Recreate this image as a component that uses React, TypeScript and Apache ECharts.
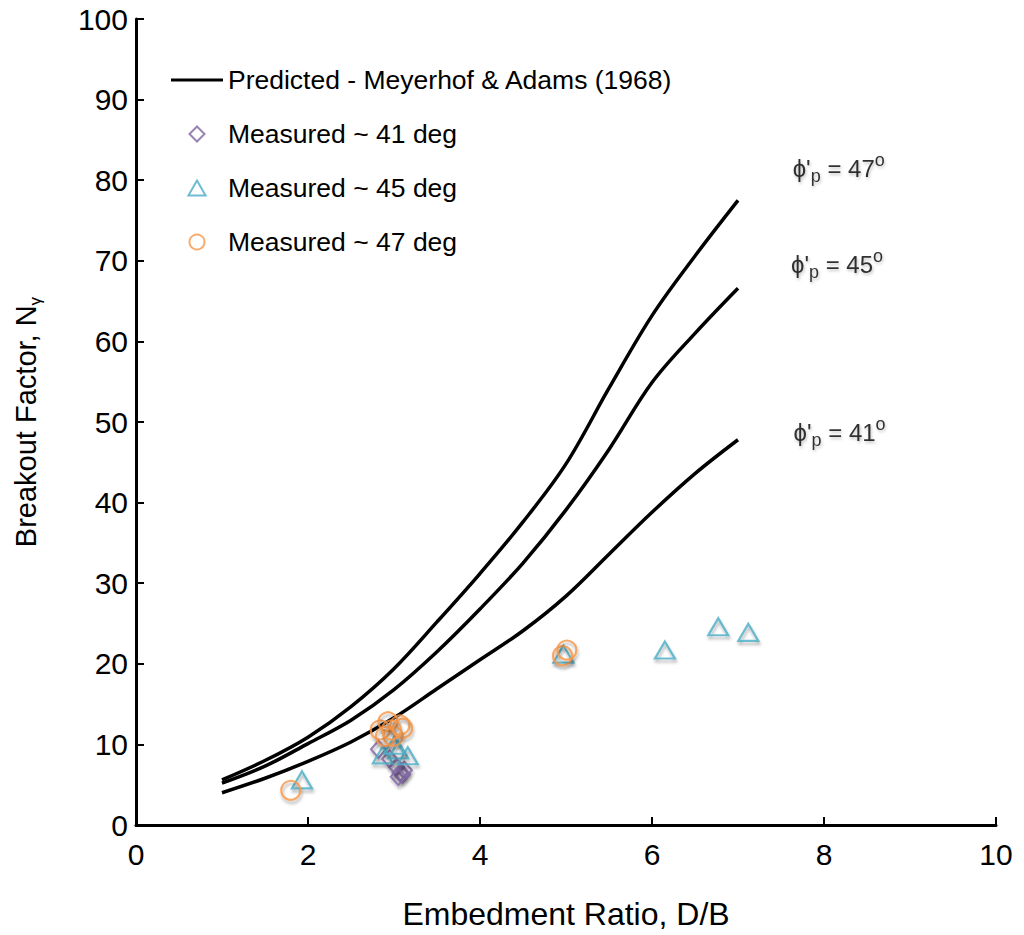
import React, { useEffect, useRef } from "react";
import * as echarts from "echarts";

// ---- data ----
const curveX = [1, 1.5, 2, 2.5, 3, 3.5, 4, 4.5, 5, 5.5, 6, 6.5, 7];
const predicted47 = [5.6, 8.0, 10.9, 14.7, 19.4, 25.2, 31.2, 37.6, 44.8, 54.2, 63.2, 70.6, 77.5];
const predicted45 = [5.2, 7.3, 10.1, 13.0, 16.8, 21.5, 26.8, 32.5, 39.1, 46.6, 54.9, 61.0, 66.6];
const predicted41 = [4.0, 5.8, 7.9, 10.3, 13.3, 16.9, 20.5, 24.1, 28.4, 33.6, 38.8, 43.6, 47.8];

const measured41: [number, number][] = [
  [2.82, 9.4], [2.95, 8.2], [3.03, 7.2], [3.07, 6.5], [3.1, 6.3], [3.12, 6.8], [3.05, 6.0],
];
const measured45: [number, number][] = [
  [1.93, 5.6], [2.87, 8.7], [3.05, 9.3], [3.16, 8.6], [3.0, 9.9],
  [4.97, 21.2], [6.15, 21.7], [6.77, 24.6], [7.12, 23.9],
];
const measured47: [number, number][] = [
  [1.8, 4.3], [2.84, 11.8], [2.93, 12.8], [2.9, 11.0], [2.99, 11.0], [3.07, 12.4],
  [3.1, 12.0], [2.97, 11.8], [4.96, 21.0], [5.01, 21.7],
];

const angleLabels: { x: number; y: number; deg: string }[] = [
  { x: 7.63, y: 81.5, deg: "47" },
  { x: 7.61, y: 69.6, deg: "45" },
  { x: 7.64, y: 48.7, deg: "41" },
];

const xTicks = { min: 0, max: 10, interval: 2 };
const yTicks = { min: 0, max: 100, interval: 10 };

const PRED = "Predicted - Meyerhof & Adams (1968)";
const M41 = "Measured ~ 41 deg";
const M45 = "Measured ~ 45 deg";
const M47 = "Measured ~ 47 deg";

const PURPLE = "#8064A2";
const TEAL = "#4BACC6";
const ORANGE = "#F79646";
const FONT = "Liberation Sans, Arial, sans-serif";

const shadow = {
  shadowBlur: 3,
  shadowColor: "rgba(0,0,0,0.35)",
  shadowOffsetX: 1,
  shadowOffsetY: 3,
};

const ICON_LINE = "path://M0,0L52,0L52,3.2L0,3.2Z";
const ICON_DIAMOND = "path://M7,0L14,7L7,14L0,7Z";
const ICON_TRIANGLE = "path://M8,0L16,14L0,14Z";

export default function App() {
  const ref = useRef<HTMLDivElement>(null);

  useEffect(() => {
    if (!ref.current) return;
    const chart = echarts.init(ref.current, undefined, { renderer: "svg" });

    const lineSeries = (data: number[]) => ({
      type: "line",
      name: PRED,
      data: curveX.map((x, i) => [x, data[i]]),
      smooth: 0.35,
      symbol: "none",
      lineStyle: { color: "#000", width: 3.5 },
      itemStyle: { color: "#000" },
      z: 3,
    });

    const scatterSeries = (name: string, data: [number, number][], symbol: string, color: string, size: number | number[]) => ({
      type: "scatter",
      name,
      data,
      symbol,
      symbolSize: size,
      itemStyle: {
        color: "rgba(255,255,255,0)",
        borderColor: color,
        borderWidth: 2.2,
        ...shadow,
      },
      z: 4,
    });

    const hollow = (c: string) => ({ color: "rgba(255,255,255,0)", borderColor: c, borderWidth: 2 });

    chart.setOption({
      animation: false,
      backgroundColor: "#fff",
      textStyle: { fontFamily: FONT },
      grid: { left: 136, right: 28, top: 19, bottom: 110, containLabel: false },
      legend: {
        data: [
          { name: PRED, icon: ICON_LINE, itemStyle: { color: "#000", borderWidth: 0 } },
          { name: M41, icon: ICON_DIAMOND, itemStyle: hollow(PURPLE) },
          { name: M45, icon: ICON_TRIANGLE, itemStyle: hollow(TEAL) },
          { name: M47, icon: "circle", itemStyle: hollow(ORANGE) },
        ],
        orient: "vertical",
        left: 166,
        top: 60,
        itemWidth: 52,
        itemHeight: 15,
        itemGap: 24,
        symbolKeepAspect: true,
        textStyle: { fontSize: 26.5, color: "#000", fontFamily: FONT, lineHeight: 30 },
        selectedMode: false,
      },
      xAxis: {
        type: "value",
        min: xTicks.min,
        max: xTicks.max,
        interval: xTicks.interval,
        name: "Embedment Ratio, D/B",
        nameLocation: "middle",
        nameGap: 73,
        nameTextStyle: { fontSize: 32, color: "#000", fontFamily: FONT },
        axisLine: { lineStyle: { color: "#000", width: 3 } },
        axisTick: { inside: true, length: 8, lineStyle: { color: "#000", width: 2 } },
        axisLabel: { fontSize: 30, color: "#000", margin: 14, fontFamily: FONT },
        splitLine: { show: false },
      },
      yAxis: {
        type: "value",
        min: yTicks.min,
        max: yTicks.max,
        interval: yTicks.interval,
        name: "{a|Breakout Factor, N}{b|γ}",
        nameLocation: "middle",
        nameRotate: 90,
        nameGap: 92,
        nameTextStyle: {
          color: "#000",
          fontFamily: FONT,
          rich: {
            a: { fontSize: 29, color: "#000", fontFamily: FONT, lineHeight: 36, verticalAlign: "middle" },
            b: { fontSize: 17, color: "#000", fontFamily: FONT, lineHeight: 36, verticalAlign: "bottom" },
          },
        },
        axisLine: { show: true, lineStyle: { color: "#000", width: 3 } },
        axisTick: { show: true, inside: true, length: 8, lineStyle: { color: "#000", width: 2 } },
        axisLabel: { fontSize: 30, color: "#000", margin: 8, fontFamily: FONT },
        splitLine: { show: false },
      },
      series: [
        lineSeries(predicted47),
        lineSeries(predicted45),
        lineSeries(predicted41),
        scatterSeries(M41, measured41, "diamond", PURPLE, [15, 17]),
        scatterSeries(M45, measured45, "triangle", TEAL, [20, 17]),
        scatterSeries(M47, measured47, "circle", ORANGE, 19),
        {
          type: "scatter",
          name: "angle-labels",
          data: angleLabels.map((a) => ({ value: [a.x, a.y], deg: a.deg })),
          symbolSize: 1,
          itemStyle: { color: "rgba(0,0,0,0)" },
          silent: true,
          label: {
            show: true,
            position: "right",
            distance: 0,
            formatter: (p: any) => `{m|ϕ'}{s|p}{m| = ${p.data.deg}}{u|o}`,
            textShadowColor: "rgba(0,0,0,0.3)",
            textShadowBlur: 3,
            textShadowOffsetX: 1,
            textShadowOffsetY: 2,
            rich: {
              m: { fontSize: 24, color: "#000", fontFamily: FONT, lineHeight: 34, verticalAlign: "middle" },
              s: { fontSize: 18, color: "#000", fontFamily: FONT, lineHeight: 34, verticalAlign: "bottom" },
              u: { fontSize: 18, color: "#000", fontFamily: FONT, lineHeight: 34, verticalAlign: "top" },
            },
          },
        },
      ],
    });

    return () => chart.dispose();
  }, []);

  return (
    <div
      ref={ref}
      style={{ position: "absolute", left: 0, top: 0, width: 1024, height: 935, background: "#fff" }}
    />
  );
}
